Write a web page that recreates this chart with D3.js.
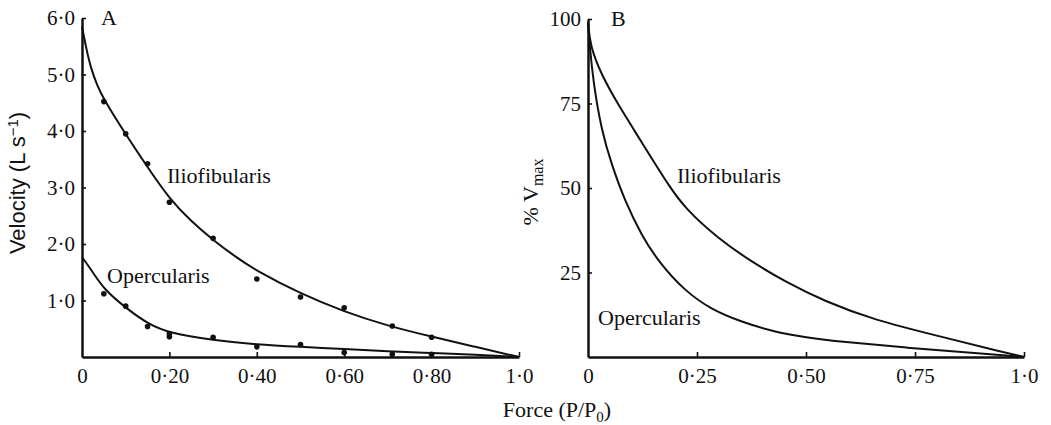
<!DOCTYPE html>
<html>
<head>
<meta charset="utf-8">
<script src="https://cdn.jsdelivr.net/npm/d3@7"></script>
<style>
  body { margin: 0; background: #fff; }
  svg { display: block; }
  .tick text { font-family: "Liberation Serif", serif; font-size: 21px; fill: #111; }
  .lbl { font-family: "Liberation Serif", serif; font-size: 22px; fill: #111; }
  .vlbl { font-family: "Liberation Sans", sans-serif; font-size: 22px; fill: #111; }
</style>
</head>
<body>
<div id="chart"></div>
<script>
// panel A: measured points (force P/P0, velocity L/s)
const iliofibForce = [0.05, 0.10, 0.15, 0.20, 0.30, 0.40, 0.50, 0.60, 0.71, 0.80];
const iliofibVel = [4.52, 3.95, 3.42, 2.74, 2.10, 1.38, 1.06, 0.87, 0.55, 0.35];
const opercForce = [0.05, 0.10, 0.15, 0.20, 0.20, 0.30, 0.40, 0.50, 0.60, 0.71, 0.80];
const opercVel = [1.12, 0.90, 0.54, 0.36, 0.41, 0.35, 0.18, 0.22, 0.08, 0.05, 0.05];

// panel A: fitted curves
const iliofibFitForce = [0, 0.01, 0.02, 0.035, 0.05, 0.10, 0.15, 0.20, 0.25, 0.30, 0.35, 0.40, 0.50, 0.60, 0.70, 0.80, 0.90, 1.0];
const iliofibFitVel = [5.85, 5.45, 5.12, 4.80, 4.56, 3.94, 3.36, 2.80, 2.40, 2.07, 1.78, 1.52, 1.12, 0.80, 0.55, 0.36, 0.18, 0];
const opercFitForce = [0, 0.025, 0.05, 0.10, 0.15, 0.20, 0.30, 0.40, 0.50, 0.60, 0.70, 0.80, 0.90, 1.0];
const opercFitVel = [1.77, 1.50, 1.20, 0.87, 0.59, 0.42, 0.30, 0.22, 0.18, 0.14, 0.10, 0.07, 0.04, 0];

// panel B: % Vmax curves
const iliofibPctForce = [0, 0.005, 0.031, 0.07, 0.108, 0.146, 0.184, 0.222, 0.299, 0.375, 0.452, 0.544, 0.655, 0.81, 0.96, 1.0];
const iliofibPct = [99, 92, 83.4, 74.5, 66.7, 58.8, 51, 44, 35, 28.2, 22.3, 16.4, 11, 6, 1.2, 0];
const opercPctForce = [0, 0.004, 0.012, 0.031, 0.054, 0.085, 0.123, 0.16, 0.222, 0.284, 0.35, 0.425, 0.50, 0.58, 0.733, 0.885, 1.0];
const opercPct = [99, 92, 81.5, 67, 57, 46, 36, 28.5, 19.5, 14, 10.5, 7.5, 5.8, 4.5, 2.7, 1.2, 0];

const xTicksA = [0, 0.2, 0.4, 0.6, 0.8, 1.0];
const xTickLabelsA = ['0', '0·20', '0·40', '0·60', '0·80', '1·0'];
const yTicksA = [1, 2, 3, 4, 5, 6];
const yTickLabelsA = ['1·0', '2·0', '3·0', '4·0', '5·0', '6·0'];
const xTicksB = [0, 0.25, 0.5, 0.75, 1.0];
const xTickLabelsB = ['0', '0·25', '0·50', '0·75', '1·0'];
const yTicksB = [25, 50, 75, 100];
const yTickLabelsB = ['25', '50', '75', '100'];

const width = 1051, height = 425;
const svg = d3.select('#chart').append('svg')
    .attr('width', width)
    .attr('height', height);

const zip = (xs, ys) => xs.map((x, i) => [x, ys[i]]);

function panel(opts) {
    const x = d3.scaleLinear().domain([0, 1]).range(opts.xRange);
    const y = d3.scaleLinear().domain(opts.yDomain).range([357, opts.yTop]);
    const g = svg.append('g');

    const xAxis = d3.axisBottom(x)
        .tickValues(opts.xTicks)
        .tickFormat((d, i) => opts.xLabels[i])
        .tickSizeInner(-5).tickSizeOuter(0).tickPadding(11);
    const yAxis = d3.axisLeft(y)
        .tickValues(opts.yTicks)
        .tickFormat((d, i) => opts.yLabels[i])
        .tickSizeInner(-4).tickSizeOuter(0).tickPadding(7);

    const gx = g.append('g').attr('transform', 'translate(0,357)').call(xAxis);
    const gy = g.append('g').attr('transform', `translate(${opts.xRange[0]},0)`).call(yAxis);
    [gx, gy].forEach(a => {
        a.select('.domain').attr('stroke', '#111').attr('stroke-width', 2.5);
        a.selectAll('.tick line').attr('stroke', '#111').attr('stroke-width', 1.6);
        a.selectAll('.tick text').attr('font-family', null).attr('font-size', null);
    });
    // the x tick at the origin sits on the y axis
    gx.selectAll('.tick').filter(d => d === 0).select('line').remove();

    const line = d3.line()
        .x(d => x(d[0]))
        .y(d => y(d[1]))
        .curve(d3.curveBasis);
    opts.curves.forEach(c => {
        g.append('path')
            .attr('d', line(c))
            .attr('fill', 'none')
            .attr('stroke', '#111')
            .attr('stroke-width', 2);
    });
    (opts.points || []).forEach(p => {
        g.append('g').selectAll('circle')
            .data(p)
            .enter()
            .append('circle')
            .attr('cx', d => x(d[0]))
            .attr('cy', d => y(d[1]))
            .attr('r', 2.8)
            .attr('fill', '#111');
    });
    opts.labels.forEach(l => {
        g.append('text')
            .attr('class', 'lbl')
            .attr('x', l.x)
            .attr('y', l.y)
            .text(l.text);
    });
    return g;
}

panel({
    xRange: [82, 519],
    yDomain: [0, 6],
    yTop: 18,
    xTicks: xTicksA, xLabels: xTickLabelsA,
    yTicks: yTicksA, yLabels: yTickLabelsA,
    curves: [zip(iliofibFitForce, iliofibFitVel), zip(opercFitForce, opercFitVel)],
    points: [zip(iliofibForce, iliofibVel), zip(opercForce, opercVel)],
    labels: [
        { x: 101, y: 25, text: 'A' },
        { x: 167, y: 183, text: 'Iliofibularis' },
        { x: 107, y: 283, text: 'Opercularis' }
    ]
});

panel({
    xRange: [588, 1024],
    yDomain: [0, 100],
    yTop: 19,
    xTicks: xTicksB, xLabels: xTickLabelsB,
    yTicks: yTicksB, yLabels: yTickLabelsB,
    curves: [zip(iliofibPctForce, iliofibPct), zip(opercPctForce, opercPct)],
    labels: [
        { x: 611, y: 26, text: 'B' },
        { x: 677, y: 183, text: 'Iliofibularis' },
        { x: 598, y: 325, text: 'Opercularis' }
    ]
});

// axis titles
const vel = svg.append('text')
    .attr('class', 'vlbl')
    .attr('text-anchor', 'middle')
    .attr('transform', 'translate(25,183) rotate(-90)');
vel.append('tspan').text('Velocity (L s');
vel.append('tspan').attr('baseline-shift', '45%').attr('font-size', '15px').text('−1');
vel.append('tspan').text(')');

const pct = svg.append('text')
    .attr('class', 'lbl')
    .attr('text-anchor', 'middle')
    .attr('transform', 'translate(538,192) rotate(-90)');
pct.append('tspan').text('% V');
pct.append('tspan').attr('baseline-shift', '-30%').attr('font-size', '16px').text('max');

const force = svg.append('text')
    .attr('class', 'lbl')
    .attr('text-anchor', 'middle')
    .attr('transform', 'translate(557,417)');
force.append('tspan').text('Force (P/P');
force.append('tspan').attr('baseline-shift', '-30%').attr('font-size', '15px').text('0');
force.append('tspan').text(')');
</script>
</body>
</html>
